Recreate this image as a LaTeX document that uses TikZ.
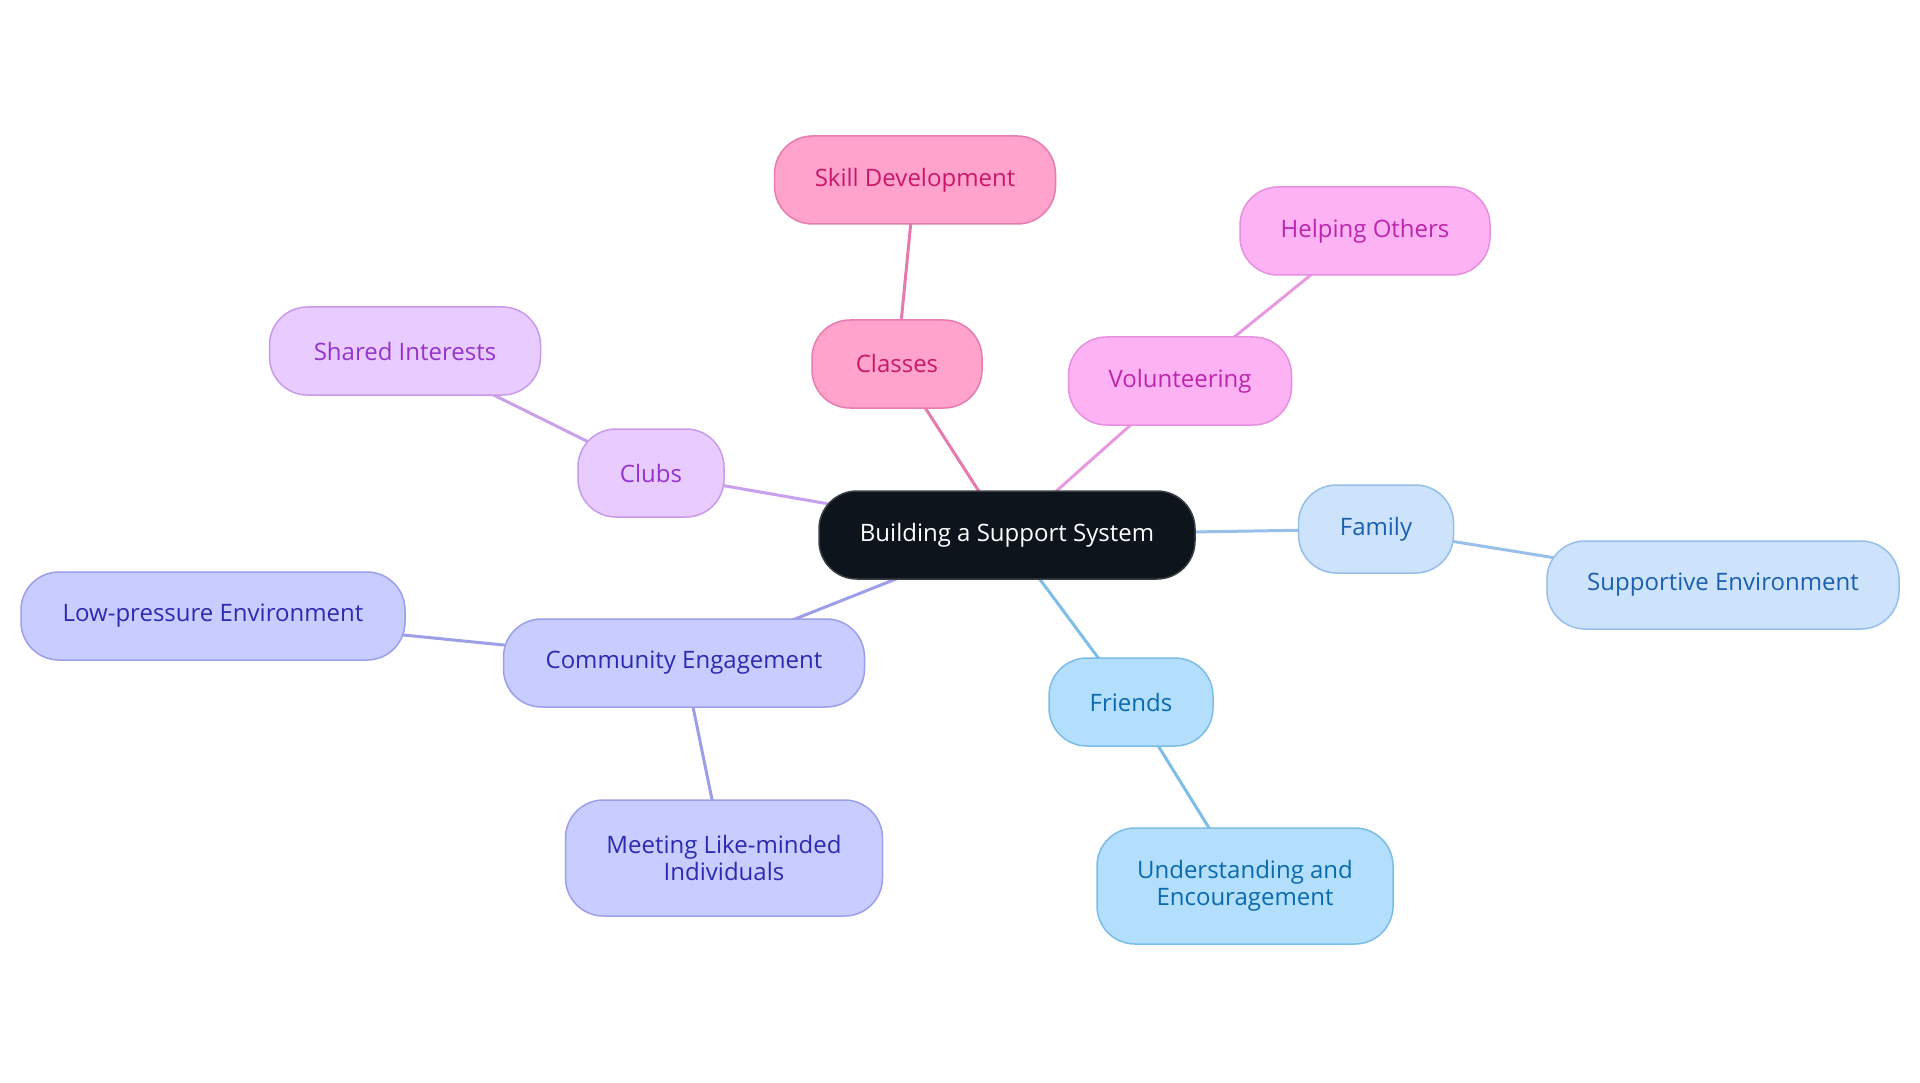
\documentclass[tikz,border=0pt]{standalone}
\usepackage{fontspec}
\setmainfont{Open Sans}
\usetikzlibrary{backgrounds}
\definecolor{ctrfill}{HTML}{0D141B}
\definecolor{ctrdraw}{HTML}{3A3F45}
\definecolor{pkfill}{HTML}{FFA3CC}\definecolor{pkdraw}{HTML}{E67BB0}\definecolor{pktext}{HTML}{C8186C}\definecolor{pkline}{HTML}{E57AAF}
\definecolor{mgfill}{HTML}{FDB3F3}\definecolor{mgdraw}{HTML}{E88FE0}\definecolor{mgtext}{HTML}{BC25AE}\definecolor{mgline}{HTML}{E89AE0}
\definecolor{vlfill}{HTML}{E9CCFF}\definecolor{vldraw}{HTML}{C99AEB}\definecolor{vltext}{HTML}{9434CC}\definecolor{vlline}{HTML}{C9A0EB}
\definecolor{fmfill}{HTML}{CDE3FB}\definecolor{fmdraw}{HTML}{95BFEA}\definecolor{fmtext}{HTML}{1C5FB0}\definecolor{fmline}{HTML}{99C0EA}
\definecolor{frfill}{HTML}{B3DFFD}\definecolor{frdraw}{HTML}{7ABDE8}\definecolor{frtext}{HTML}{0A6AAE}\definecolor{frline}{HTML}{7DBEE8}
\definecolor{cmfill}{HTML}{C8CCFE}\definecolor{cmdraw}{HTML}{9C9FEA}\definecolor{cmtext}{HTML}{2B2BB0}\definecolor{cmline}{HTML}{9C9FE8}
\tikzset{
  box/.style={rectangle, rounded corners=38pt, line width=1.5pt, align=center, inner sep=0pt,
    font=\fontsize{24}{27}\selectfont, minimum height=88pt},
  tallbox/.style={minimum height=116pt},
  ctrbox/.style={box, fill=ctrfill, draw=ctrdraw, text=white},
  pkbox/.style={box, fill=pkfill, draw=pkdraw, text=pktext},
  mgbox/.style={box, fill=mgfill, draw=mgdraw, text=mgtext},
  vlbox/.style={box, fill=vlfill, draw=vldraw, text=vltext},
  fmbox/.style={box, fill=fmfill, draw=fmdraw, text=fmtext},
  frbox/.style={box, fill=frfill, draw=frdraw, text=frtext},
  cmbox/.style={box, fill=cmfill, draw=cmdraw, text=cmtext},
  conn/.style={line width=3pt}
}
\begin{document}
\begin{tikzpicture}[x=1pt,y=-1pt]
\useasboundingbox (0,0) rectangle (1920,1083);
\node[ctrbox, minimum width=376pt] (c) at (1007,535) {Building a Support System};
\node[pkbox, minimum width=170pt] (cls) at (897,364) {Classes};
\node[pkbox, minimum width=281pt] (skl) at (915,180) {Skill Development};
\node[mgbox, minimum width=223pt] (vol) at (1180,381) {Volunteering};
\node[mgbox, minimum width=250pt] (hlp) at (1365,231) {Helping Others};
\node[vlbox, minimum width=146pt] (clb) at (651,473) {Clubs};
\node[vlbox, minimum width=271pt] (shr) at (405,351) {Shared Interests};
\node[fmbox, minimum width=155pt] (fam) at (1376,529) {Family};
\node[fmbox, minimum width=352pt] (sup) at (1723,585) {Supportive Environment};
\node[frbox, minimum width=164pt] (frd) at (1131,702) {Friends};
\node[frbox, tallbox, minimum width=296pt] (und) at (1245,886) {Understanding and\\Encouragement};
\node[cmbox, minimum width=361pt] (com) at (684,663) {Community Engagement};
\node[cmbox, minimum width=384pt] (low) at (213,616) {Low-pressure Environment};
\node[cmbox, tallbox, minimum width=317pt] (mee) at (724,858) {Meeting Like-minded\\Individuals};
\begin{scope}[on background layer]
\draw[conn, pkline] (c.center) -- (cls.center);
\draw[conn, pkline] (cls.center) -- (skl.center);
\draw[conn, mgline] (c.center) -- (vol.center);
\draw[conn, mgline] (vol.center) -- (hlp.center);
\draw[conn, vlline] (c.center) -- (clb.center);
\draw[conn, vlline] (clb.center) -- (shr.center);
\draw[conn, fmline] (c.center) -- (fam.center);
\draw[conn, fmline] (fam.center) -- (sup.center);
\draw[conn, frline] (c.center) -- (frd.center);
\draw[conn, frline] (frd.center) -- (und.center);
\draw[conn, cmline] (c.center) -- (com.center);
\draw[conn, cmline] (com.center) -- (low.center);
\draw[conn, cmline] (com.center) -- (mee.center);
\end{scope}
\end{tikzpicture}
\end{document}
